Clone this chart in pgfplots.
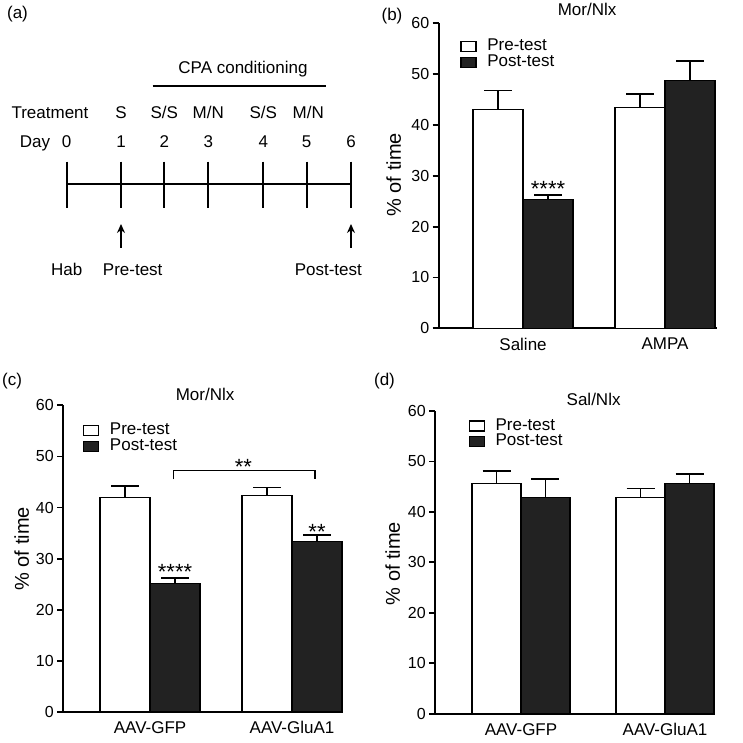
\documentclass[border=0pt]{standalone}
\usepackage{pgfplots}
\pgfplotsset{compat=1.18}
\usepackage{fontspec}
\setmainfont{Liberation Sans}
\usetikzlibrary{arrows.meta}
\newcommand{\fs}[1]{\fontsize{#1bp}{#1bp}\selectfont}
\definecolor{darkbar}{HTML}{222222}

\pgfplotsset{
  panel/.style={
    scale only axis, clip=false,
    axis x line=bottom, axis y line=left,
    axis line style={-, line width=1.8bp, black},
    ymin=0, ymax=60, ytick={0,10,20,30,40,50,60},
    xtick={1,2},
    tick align=outside, major tick length=6bp,
    ytick style={line width=1.8bp, black},
    xtick style={draw=none},
    /pgf/number format/assume math mode=true,
    yticklabel style={font=\fs{16}},
    xticklabel style={font=\fs{17}},
    ylabel={\% of time},
    label style={font=\fs{20}},
    title style={font=\fs{17}, anchor=center},
    legend style={draw=none, fill=none, anchor=north west, font=\fs{17},
      inner sep=0pt, outer sep=0pt, row sep=0pt,
      nodes={inner sep=0pt, text height=12bp, text depth=3.7bp},
      /tikz/every odd column/.append style={column sep=10.7bp}},
    legend cell align=left,
  },
  ebar/.style={error bars/.cd, y dir=plus, y explicit,
    error bar style={line width=1.3bp, black},
    error mark options={rotate=90, mark size=14bp, line width=1.3bp, black}},
  prestyle/.style={fill=white, draw=black, line width=1.3bp,
    legend image code/.code={\draw[fill=white, draw=black, line width=1.3bp] (0bp,-5bp) rectangle (15bp,5bp);}},
  poststyle/.style={fill=darkbar, draw=black, line width=1.3bp,
    legend image code/.code={\draw[fill=darkbar, draw=black, line width=1.3bp] (0bp,-5bp) rectangle (15bp,5bp);}},
}

\begin{document}
\begin{tikzpicture}
\path[use as bounding box] (0,0) rectangle (743bp,743bp);

% ---------- panel (a): timeline ----------
\begin{scope}[font=\fs{17}]
\node[anchor=base] at (17.5bp,724bp) {(a)};
\node[anchor=base] at (243bp,669.7bp) {CPA conditioning};
\draw[line width=1.6bp] (152.7bp,657bp) -- (326bp,657bp);
\node[anchor=base] at (50bp,624.7bp) {Treatment};
\node[anchor=base] at (121bp,624.7bp) {S};
\node[anchor=base] at (164.3bp,624.7bp) {S/S};
\node[anchor=base] at (208.3bp,624.7bp) {M/N};
\node[anchor=base] at (263.3bp,624.7bp) {S/S};
\node[anchor=base] at (308.3bp,624.7bp) {M/N};
\node[anchor=base] at (35bp,595.7bp) {Day};
\foreach \x/\d in {66.7/0,121/1,164.3/2,208.3/3,263.3/4,306.7/5,351/6}{
  \node[anchor=base] at (\x bp,595.7bp) {\d};
  \draw[line width=2bp] (\x bp,581.3bp) -- (\x bp,534.7bp);
}
\draw[line width=2bp] (66.7bp,558.7bp) -- (351bp,558.7bp);
\draw[line width=1.4bp,-{Stealth[length=9bp,width=8bp]}] (121bp,495bp) -- (121bp,519bp);
\draw[line width=1.4bp,-{Stealth[length=9bp,width=8bp]}] (351bp,495bp) -- (351bp,519bp);
\node[anchor=base] at (66.7bp,467bp) {Hab};
\node[anchor=base] at (132.7bp,467bp) {Pre-test};
\node[anchor=base] at (328.3bp,467bp) {Post-test};
\node[anchor=base] at (392bp,722.3bp) {(b)};
\node[anchor=base] at (12bp,357.7bp) {(c)};
\node[anchor=base] at (384.5bp,357.7bp) {(d)};
\end{scope}

% ---------- panel (b) ----------
\begin{axis}[panel, at={(438.7bp,414.7bp)}, width=278.3bp, height=305bp,
  xmin=0.406, xmax=2.366, xticklabels={Saline,AMPA},
  title={Mor/Nlx}, title style={at={(axis description cs:0.533,1.026)}},
  ylabel style={at={(axis description cs:-0.162,0.503)}, anchor=center},
  legend style={at={(axis description cs:0.0776,0.9485)}}]
\addplot[ybar, bar width=0.352, bar shift=0, prestyle, ebar]
  coordinates {(0.824,43.1) +- (0,3.7) (1.824,43.4) +- (0,2.7)};
\addlegendentry{Pre-test}
\addplot[ybar, bar width=0.352, bar shift=0, poststyle, ebar]
  coordinates {(1.176,25.4) +- (0,0.8) (2.176,48.8) +- (0,3.8)};
\addlegendentry{Post-test}
\node[font=\fs{22}, anchor=base] at (axis cs:1.176,26.0) {****};
\end{axis}

% ---------- panel (c) ----------
\begin{axis}[panel, at={(63.3bp,31bp)}, width=279.7bp, height=306.7bp,
  xmin=0.389, xmax=2.359, xticklabels={AAV-GFP,AAV-GluA1},
  title={Mor/Nlx}, title style={at={(axis description cs:0.507,1.016)}},
  ylabel style={at={(axis description cs:-0.149,0.532)}, anchor=center},
  legend style={at={(axis description cs:0.0704,0.943)}}]
\addplot[ybar, bar width=0.352, bar shift=0, prestyle, ebar]
  coordinates {(0.824,41.9) +- (0,2.3) (1.824,42.4) +- (0,1.5)};
\addlegendentry{Pre-test}
\addplot[ybar, bar width=0.352, bar shift=0, poststyle, ebar]
  coordinates {(1.176,25.1) +- (0,1.1) (2.176,33.3) +- (0,1.3)};
\addlegendentry{Post-test}
\addplot[sharp plot, mark=none, black, line width=1.3bp, forget plot]
  coordinates {(1.164,45.5) (1.164,47.3) (2.162,47.3) (2.162,45.5)};
\node[font=\fs{22}, anchor=base] at (axis cs:1.176,25.9) {****};
\node[font=\fs{22}, anchor=base] at (axis cs:2.176,33.7) {**};
\node[font=\fs{22}, anchor=base] at (axis cs:1.657,46.4) {**};
\end{axis}

% ---------- panel (d) ----------
\begin{axis}[panel, at={(435.3bp,29.3bp)}, width=279.7bp, height=302.7bp,
  xmin=0.405, xmax=2.347, xticklabels={AAV-GFP,AAV-GluA1},
  title={Sal/Nlx}, title style={at={(axis description cs:0.566,1.019)}},
  ylabel style={at={(axis description cs:-0.152,0.496)}, anchor=center},
  legend style={at={(axis description cs:0.119,0.976)}}]
\addplot[ybar, bar width=0.34, bar shift=0, prestyle, ebar]
  coordinates {(0.83,45.6) +- (0,2.5) (1.83,42.8) +- (0,1.9)};
\addlegendentry{Pre-test}
\addplot[ybar, bar width=0.34, bar shift=0, poststyle, ebar]
  coordinates {(1.17,42.8) +- (0,3.7) (2.17,45.6) +- (0,1.9)};
\addlegendentry{Post-test}
\end{axis}
\end{tikzpicture}
\end{document}
